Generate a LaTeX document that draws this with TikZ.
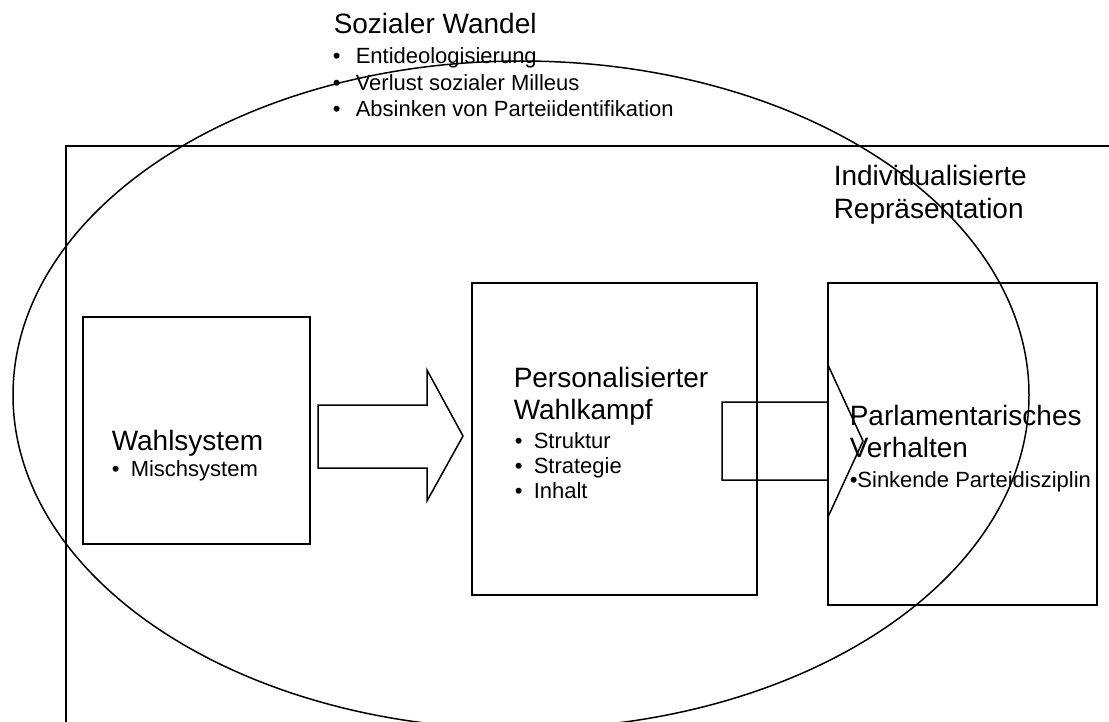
\documentclass[tikz,border=0pt]{standalone}
\usepackage{fontspec}
\setmainfont{Liberation Sans}
\usetikzlibrary{shapes.geometric}
\begin{document}
\begin{tikzpicture}[x=1pt,y=-1pt,line width=1.5pt,line join=miter,
  boxnode/.style={draw,anchor=north west,inner sep=0pt,outer sep=0pt},
  titletext/.style={anchor=base west,inner sep=0pt,font=\fontsize{28}{33}\selectfont},
  itemtext/.style={anchor=base west,inner sep=0pt,font=\fontsize{22}{26}\selectfont},
  blockarrow/.style={draw}]
\useasboundingbox (0,0) rectangle (1109,722);
\clip (0,0) rectangle (1109,722);
% outer frame (individualisierte Repraesentation)
\node[boxnode,minimum width=1100pt,minimum height=640pt] (frame) at (66,146) {};
% ellipse (sozialer Wandel)
\node[draw,ellipse,inner sep=0pt,outer sep=0pt,minimum width=1016pt,minimum height=668pt] (soz) at (521,395) {};
% boxes
\node[boxnode,minimum width=227pt,minimum height=227pt] (wahl) at (83,317) {};
\node[boxnode,minimum width=285pt,minimum height=312pt] (kampf) at (472,283) {};
\node[boxnode,minimum width=269pt,minimum height=322pt] (parl) at (828,283) {};
% block arrows
\coordinate (a1s) at (318,436);
\coordinate (a1t) at (463,436);
\draw[blockarrow] (a1s) ++(0,-31) -- ++(109,0) -- ++(0,-35) -- (a1t) -- ++(-36,65) -- ++(0,-33) -- ++(-109,0) -- cycle;
\coordinate (a2s) at (722,441);
\coordinate (a2t) at (863,441);
\draw[blockarrow] (a2s) ++(0,-39) -- ++(106,0) -- ++(0,-37) -- (a2t) -- ++(-35,76) -- ++(0,-37) -- ++(-106,0) -- cycle;
% texts: Sozialer Wandel
\node[titletext] (swt) at (333,34) {Sozialer Wandel};
\node[itemtext] (swb1) at (332,64) {•};
\node[itemtext] (sw1) at (355,64) {Entideologisierung};
\node[itemtext] (swb2) at (332,91) {•};
\node[itemtext] (sw2) at (355,91) {Verlust sozialer Milleus};
\node[itemtext] (swb3) at (332,117) {•};
\node[itemtext] (sw3) at (355,117) {Absinken von Parteiidentifikation};
% Individualisierte Repraesentation
\node[titletext] (ir1) at (833,186) {Individualisierte};
\node[titletext] (ir2) at (833,219) {Repräsentation};
% Wahlsystem
\node[titletext] (ws) at (111,450) {Wahlsystem};
\node[itemtext] (wsb) at (111,476) {•};
\node[itemtext] (ws1) at (130,476) {Mischsystem};
% Personalisierter Wahlkampf
\node[titletext] (pw1) at (513,387) {Personalisierter};
\node[titletext] (pw2) at (513,419) {Wahlkampf};
\node[itemtext] (pwb1) at (514,448) {•};
\node[itemtext] (pw3) at (533,448) {Struktur};
\node[itemtext] (pwb2) at (514,473) {•};
\node[itemtext] (pw4) at (533,473) {Strategie};
\node[itemtext] (pwb3) at (514,498) {•};
\node[itemtext] (pw5) at (533,498) {Inhalt};
% Parlamentarisches Verhalten
\node[titletext] (pv1) at (849,425) {Parlamentarisches};
\node[titletext] (pv2) at (849,457) {Verhalten};
\node[itemtext] (pv3) at (849,487) {•Sinkende Parteidisziplin};
\end{tikzpicture}
\end{document}
